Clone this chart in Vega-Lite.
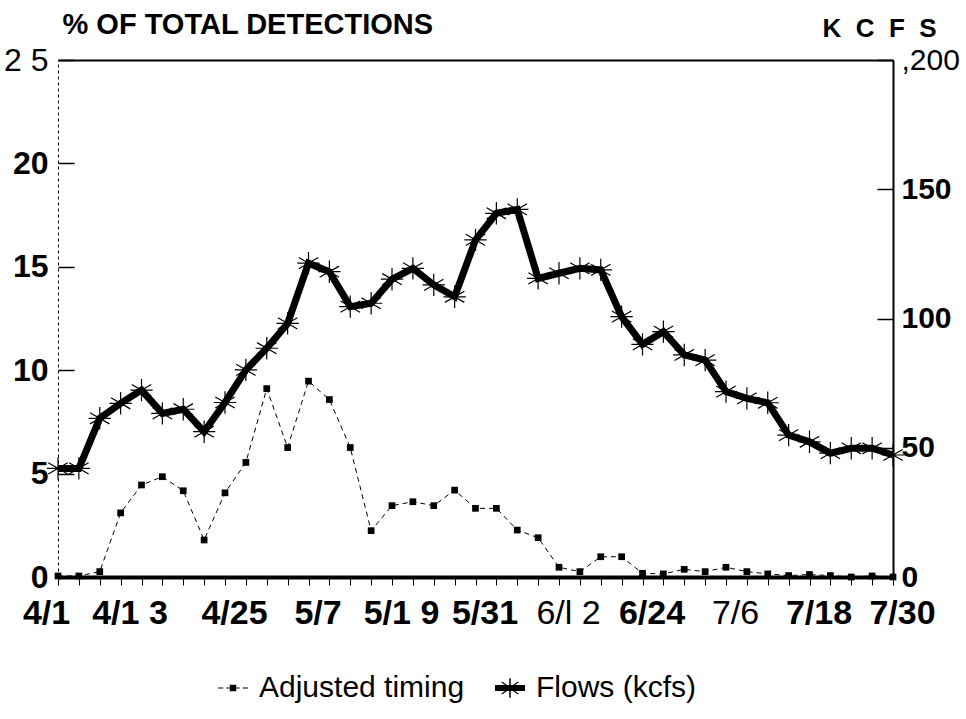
{
  "$schema": "https://vega.github.io/schema/vega-lite/v6.json",
  "width": 835,
  "height": 517,
  "autosize": {"type": "none"},
  "padding": {"left": 58, "top": 60, "right": 73, "bottom": 142},
  "background": "white",
  "config": {
    "view": {"stroke": null},
    "font": "Liberation Sans",
    "axis": {"grid": false, "domainColor": "black", "tickColor": "black", "labelColor": "black", "titleColor": "black"}
  },
  "data": {
    "values": [
      {"date": "4/1", "timing": 0.05, "flow": 42.0},
      {"date": "4/4", "timing": 0.05, "flow": 42.0},
      {"date": "4/7", "timing": 0.26, "flow": 61.4},
      {"date": "4/10", "timing": 3.1, "flow": 67.2},
      {"date": "4/13", "timing": 4.45, "flow": 72.3},
      {"date": "4/16", "timing": 4.85, "flow": 63.3},
      {"date": "4/19", "timing": 4.17, "flow": 64.9},
      {"date": "4/22", "timing": 1.79, "flow": 56.2},
      {"date": "4/25", "timing": 4.07, "flow": 67.5},
      {"date": "4/28", "timing": 5.54, "flow": 80.1},
      {"date": "5/1", "timing": 9.11, "flow": 88.5},
      {"date": "5/4", "timing": 6.26, "flow": 98.1},
      {"date": "5/7", "timing": 9.47, "flow": 121.4},
      {"date": "5/10", "timing": 8.58, "flow": 118.1},
      {"date": "5/13", "timing": 6.26, "flow": 104.6},
      {"date": "5/16", "timing": 2.24, "flow": 105.9},
      {"date": "5/19", "timing": 3.45, "flow": 115.2},
      {"date": "5/22", "timing": 3.64, "flow": 119.4},
      {"date": "5/25", "timing": 3.45, "flow": 113.0},
      {"date": "5/28", "timing": 4.2, "flow": 108.4},
      {"date": "5/31", "timing": 3.32, "flow": 130.4},
      {"date": "6/3", "timing": 3.32, "flow": 140.7},
      {"date": "6/6", "timing": 2.27, "flow": 142.2},
      {"date": "6/9", "timing": 1.9, "flow": 115.5},
      {"date": "6/12", "timing": 0.47, "flow": 117.5},
      {"date": "6/15", "timing": 0.26, "flow": 119.4},
      {"date": "6/18", "timing": 0.98, "flow": 118.8},
      {"date": "6/21", "timing": 0.98, "flow": 100.7},
      {"date": "6/24", "timing": 0.18, "flow": 90.0},
      {"date": "6/27", "timing": 0.15, "flow": 94.9},
      {"date": "6/30", "timing": 0.37, "flow": 85.9},
      {"date": "7/3", "timing": 0.26, "flow": 83.9},
      {"date": "7/6", "timing": 0.47, "flow": 71.7},
      {"date": "7/9", "timing": 0.26, "flow": 69.1},
      {"date": "7/12", "timing": 0.15, "flow": 67.4},
      {"date": "7/15", "timing": 0.07, "flow": 54.9},
      {"date": "7/18", "timing": 0.12, "flow": 52.3},
      {"date": "7/21", "timing": 0.07, "flow": 47.9},
      {"date": "7/24", "timing": 0.0, "flow": 49.8},
      {"date": "7/27", "timing": 0.05, "flow": 49.8},
      {"date": "7/30", "timing": 0.0, "flow": 47.2}
    ]
  },
  "layer": [
    {
      "mark": {"type": "line", "strokeDash": [5, 4], "strokeWidth": 1, "color": "black"},
      "encoding": {
        "x": {
          "field": "date", "type": "ordinal", "sort": null,
          "scale": {"type": "point", "padding": 0},
          "axis": {
            "orient": "bottom", "title": null,
            "domainWidth": 4, "tickSize": 8, "tickWidth": 1,
            "labelAngle": 0, "labelFontSize": 34, "labelFontWeight": {"condition": {"test": "datum.value == '6/12' || datum.value == '7/6'", "value": "normal"}, "value": "bold"},
            "labelPadding": 11, "labelOverlap": false, "labelBaseline": "top",
            "labelOffset": {"condition": {"test": "datum.value == '4/1' || datum.value == '4/13'", "value": -12}, "value": 9},
            "labelExpr": "datum.value == '4/13' ? '4/1 3' : datum.value == '5/19' ? '5/1 9' : datum.value == '6/12' ? '6/l 2' : indexof(['4/1','4/25','5/7','5/31','6/24','7/6','7/18','7/30'], datum.value) >= 0 ? datum.value : ''"
          }
        },
        "y": {
          "field": "timing", "type": "quantitative",
          "scale": {"domain": [0, 25]},
          "axis": {
            "orient": "left", "values": [0, 5, 10, 15, 20, 25],
            "domainWidth": 1, "domainDash": [3, 3],
            "tickSize": -16, "tickWidth": 1.5,
            "labelFontSize": 32,
            "labelFontWeight": {"condition": {"test": "datum.value == 25", "value": "normal"}, "value": "bold"},
            "labelExpr": "datum.value == 25 ? '2 5' : datum.label",
            "labelPadding": 26,
            "title": "%  OF  TOTAL  DETECTIONS", "titleAngle": 0, "titleAlign": "left", "titleBaseline": "alphabetic",
            "titleX": 4, "titleY": -27, "titleFontSize": 29, "titleFontWeight": "bold"
          }
        }
      }
    },
    {
      "mark": {"type": "point", "shape": "square", "filled": true, "size": 45, "opacity": 1},
      "encoding": {
        "x": {"field": "date", "type": "ordinal", "sort": null, "scale": {"type": "point", "padding": 0}, "axis": null},
        "y": {"field": "timing", "type": "quantitative", "scale": {"domain": [0, 25]}, "axis": null},
        "color": {
          "datum": "Adjusted timing",
          "scale": {"domain": ["Adjusted timing", "Flows (kcfs)"], "range": ["black", "black"]},
          "legend": {
            "title": null, "orient": "none", "direction": "horizontal",
            "legendX": 160, "legendY": 613,
            "labelFontSize": 30, "labelFont": "Liberation Sans", "labelColor": "black", "labelLimit": 0,
            "symbolSize": 900, "labelOffset": 11, "columnPadding": 30,
            "symbolFillColor": "black", "symbolStrokeColor": "black", "symbolStrokeWidth": 0, "symbolOpacity": 1,
            "symbolType": {"expr": "datum.value === 'Adjusted timing' ? 'M-1,-0.04H-0.65V0.04H-1Z M-0.45,-0.04H-0.25V0.04H-0.45Z M0.25,-0.04H0.45V0.04H0.25Z M0.65,-0.04H1V0.04H0.65Z M-0.22,-0.22H0.22V0.22H-0.22Z' : 'M-1,-0.2H1V0.2H-1Z M0.05,-0.65L0.05,0.65L-0.05,0.65L-0.05,-0.65Z M-0.5265,-0.4324L0.5735,0.3676L0.5265,0.4324L-0.5735,-0.3676Z M-0.5735,0.3676L0.5265,-0.4324L0.5735,-0.3676L-0.5265,0.4324Z'"}
          }
        }
      }
    },
    {
      "mark": {"type": "line", "strokeWidth": 7, "color": "black", "strokeJoin": "miter"},
      "encoding": {
        "x": {
          "field": "date", "type": "ordinal", "sort": null, "scale": {"type": "point", "padding": 0},
          "axis": {"orient": "top", "labels": false, "ticks": false, "domain": true, "domainWidth": 2, "title": null}
        },
        "y": {
          "field": "flow", "type": "quantitative",
          "scale": {"domain": [0, 200]},
          "axis": {
            "orient": "right", "values": [0, 50, 100, 150, 200],
            "domainWidth": 2, "tickSize": -16, "tickWidth": 1.5,
            "labelFontSize": 30,
            "labelFontWeight": {"condition": {"test": "datum.value == 200", "value": "normal"}, "value": "bold"},
            "labelExpr": "datum.value == 200 ? ',200' : datum.label",
            "labelPadding": 24,
            "title": "K\u00a0\u00a0C\u00a0\u00a0F\u00a0\u00a0S", "titleAngle": 0, "titleAlign": "left", "titleBaseline": "alphabetic",
            "titleX": -71, "titleY": -24, "titleFontSize": 26, "titleFontWeight": "bold"
          }
        }
      }
    },
    {
      "mark": {"type": "point", "shape": "M0,-1V1M-0.87,-0.5L0.87,0.5M-0.87,0.5L0.87,-0.5M-1,0H1", "filled": false, "size": 500, "strokeWidth": 1.2, "opacity": 1},
      "encoding": {
        "x": {"field": "date", "type": "ordinal", "sort": null, "scale": {"type": "point", "padding": 0}, "axis": null},
        "y": {"field": "flow", "type": "quantitative", "scale": {"domain": [0, 200]}, "axis": null},
        "color": {"datum": "Flows (kcfs)"}
      }
    }
  ],
  "resolve": {"scale": {"y": "independent"}, "axis": {"x": "independent", "y": "independent"}}
}
